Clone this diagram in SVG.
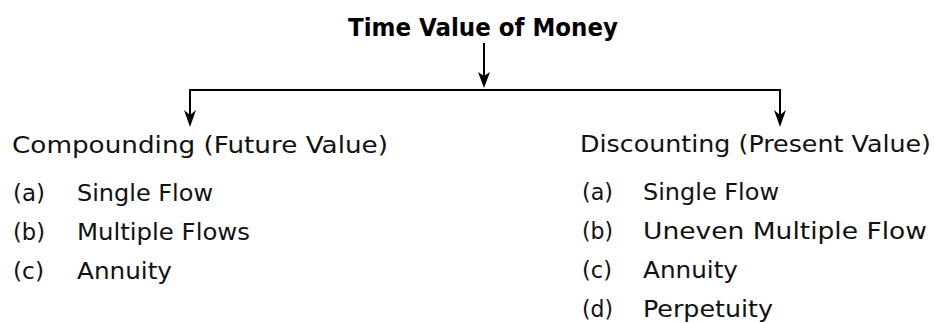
<svg xmlns="http://www.w3.org/2000/svg" width="935" height="323" viewBox="0 0 935 323">
<style>
.t{font-family:"DejaVu Sans","Liberation Sans",sans-serif;font-size:23px;fill:#111}
.title{font-family:"DejaVu Sans","Liberation Sans",sans-serif;font-size:24px;font-weight:bold;fill:#000}
.ln{stroke:#000;stroke-width:2;fill:none}
.ah{fill:#000}
</style>
<rect width="935" height="323" fill="#fff"/>
<g id="root">
<text class="title" x="483" y="36" text-anchor="middle" textLength="270" lengthAdjust="spacingAndGlyphs">Time Value of Money</text>
</g>
<g id="connectors">
<line class="ln" x1="484" y1="43" x2="484" y2="78"/>
<path class="ah" d="M484,88 L478,72 L484,76 L490,72 Z"/>
<polyline class="ln" points="190,115 190,90 780,90 780,115"/>
<path class="ah" d="M190,127 L184,110 L190,115 L196,110 Z"/>
<path class="ah" d="M780,127 L774,110 L780,115 L786,110 Z"/>
</g>
<g id="compounding">
<text class="t" x="12" y="153" textLength="376" lengthAdjust="spacingAndGlyphs">Compounding (Future Value)</text>
<text class="t" x="13" y="201" textLength="32" lengthAdjust="spacingAndGlyphs">(a)</text>
<text class="t" x="77" y="201" textLength="136" lengthAdjust="spacingAndGlyphs">Single Flow</text>
<text class="t" x="13" y="240" textLength="32" lengthAdjust="spacingAndGlyphs">(b)</text>
<text class="t" x="77" y="240" textLength="173" lengthAdjust="spacingAndGlyphs">Multiple Flows</text>
<text class="t" x="13" y="279" textLength="31" lengthAdjust="spacingAndGlyphs">(c)</text>
<text class="t" x="77" y="279" textLength="95" lengthAdjust="spacingAndGlyphs">Annuity</text>
</g>
<g id="discounting">
<text class="t" x="580" y="152" textLength="351" lengthAdjust="spacingAndGlyphs">Discounting (Present Value)</text>
<text class="t" x="582" y="200" textLength="31" lengthAdjust="spacingAndGlyphs">(a)</text>
<text class="t" x="643" y="200" textLength="136" lengthAdjust="spacingAndGlyphs">Single Flow</text>
<text class="t" x="582" y="239" textLength="31" lengthAdjust="spacingAndGlyphs">(b)</text>
<text class="t" x="643" y="239" textLength="284" lengthAdjust="spacingAndGlyphs">Uneven Multiple Flow</text>
<text class="t" x="582" y="278" textLength="30" lengthAdjust="spacingAndGlyphs">(c)</text>
<text class="t" x="643" y="278" textLength="95" lengthAdjust="spacingAndGlyphs">Annuity</text>
<text class="t" x="582" y="317" textLength="31" lengthAdjust="spacingAndGlyphs">(d)</text>
<text class="t" x="643" y="317" textLength="130" lengthAdjust="spacingAndGlyphs">Perpetuity</text>
</g>
</svg>
